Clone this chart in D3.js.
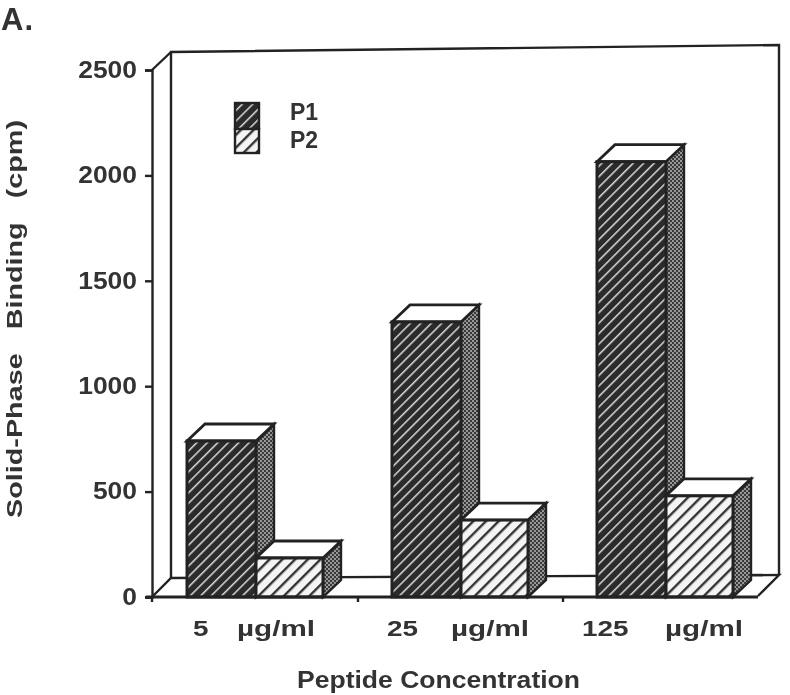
<!DOCTYPE html>
<html><head><meta charset="utf-8">
<script src="https://cdn.jsdelivr.net/npm/d3@7"></script>
<style>
html,body{margin:0;padding:0;background:#fff}
svg{display:block;filter:blur(0.55px)}
text{font-family:"Liberation Sans",Arial,sans-serif;font-weight:bold;fill:#333}
</style></head><body><div id="c"></div>
<script>
const doses = ["5","25","125"];
const unitLabel = "µg/ml";
const seriesNames = ["P1","P2"];
const p1Values = [740,1305,2065];
const p2Values = [185,365,480];
const yTicks = [0,500,1000,1500,2000,2500];
const yTitle = "Solid-Phase   Binding   (cpm)";
const xTitle = "Peptide Concentration";
const panelLabel = "A.";

const ink="#222";
const svg=d3.select("#c").append("svg").attr("width",790).attr("height",695);
const y=d3.scaleLinear().domain([0,2500]).range([597,70]);
const x0=d3.scalePoint().domain(doses).range([187,597]);
const barW={P1:69,P2:67};
const dx=18,dy=-17;

const defs=svg.append("defs");
function hatch(id,bg,fg,size,w){
  const p=defs.append("pattern").attr("id",id).attr("width",size).attr("height",size)
    .attr("patternUnits","userSpaceOnUse").attr("patternTransform","rotate(45)");
  p.append("rect").attr("width",size).attr("height",size).attr("fill",bg);
  p.append("rect").attr("width",w).attr("height",size).attr("fill",fg);
}
hatch("hP1","#2b2b2b","#d8d8d8",7.4,1.5);
hatch("hP2","#f4f4f4","#333",9,2.4);
const dots=defs.append("pattern").attr("id","dots").attr("width",4).attr("height",4)
  .attr("patternUnits","userSpaceOnUse");
dots.append("rect").attr("width",4).attr("height",4).attr("fill","#3a3a3a");
dots.append("circle").attr("cx",1).attr("cy",1).attr("r",.9).attr("fill","#c4c4c4");
dots.append("circle").attr("cx",3).attr("cy",3).attr("r",.9).attr("fill","#c4c4c4");

const line=d3.line();
const stroke=(s,w=2.4)=>s.attr("stroke",ink).attr("stroke-width",w).attr("fill","none");

const y0=y(0), yTop=y(2500);
const wall=svg.append("g");
wall.append("path").attr("d",line([[171,y0-19],[171,yTop-18],[779,yTop-25],[779,y0-22]])).call(stroke);
wall.append("path").attr("d",line([[152,y0],[171,y0-19],[779,y0-22],[758,y0-1]])).call(stroke);
svg.append("path").attr("d",line([[152,yTop],[171,yTop-18]])).call(stroke);

const axis=d3.axisLeft(y).tickValues(yTicks).tickSize(7).tickFormat(d3.format("d"));
const ax=svg.append("g").attr("transform","translate(152,0)").call(axis);
ax.selectAll("path,line").attr("stroke",ink).attr("stroke-width",2.4);
ax.selectAll("text").attr("font-size",23).attr("x",-15)
  .attr("textLength",d=>String(d).length*14.7).attr("lengthAdjust","spacingAndGlyphs");

function bar(g,xl,w,val,fill){
  const t=y(val),b=y(0);
  g.append("path").attr("d",line([[xl+w,t],[xl+w+dx,t+dy],[xl+w+dx,b+dy],[xl+w,b]])+"Z")
    .attr("fill","url(#dots)").attr("stroke",ink).attr("stroke-width",2.4);
  g.append("path").attr("d",line([[xl,t],[xl+dx,t+dy],[xl+w+dx,t+dy],[xl+w,t]])+"Z")
    .attr("fill","#fff").attr("stroke",ink).attr("stroke-width",2.8);
  g.append("rect").attr("x",xl).attr("y",t).attr("width",w).attr("height",b-t)
    .attr("fill",`url(#${fill})`).attr("stroke",ink).attr("stroke-width",3);
}
doses.forEach((d,i)=>{
  const g=svg.append("g");
  const xl=x0(d);
  bar(g,xl,barW.P1,p1Values[i],"hP1");
  bar(g,xl+barW.P1,barW.P2,p2Values[i],"hP2");
});

svg.append("path").attr("d",line([[146,y0],[758,y0]])).call(stroke,3);
doses.slice(1).forEach(d=>{
  const tx=x0(d)-34;
  svg.append("path").attr("d",line([[tx,y0],[tx,y0+5]])).call(stroke);
});
svg.append("path").attr("d",line([[152,y0],[152,y0+5]])).call(stroke);

const doseX=[193,387,582];
const unitX=[237,451,665];
doses.forEach((d,i)=>{
  svg.append("text").attr("x",doseX[i]).attr("y",636).attr("font-size",22)
    .attr("textLength",d.length*15.5).attr("lengthAdjust","spacingAndGlyphs").text(d);
  svg.append("text").attr("x",unitX[i]).attr("y",636).attr("font-size",22)
    .attr("textLength",78).attr("lengthAdjust","spacingAndGlyphs").text(unitLabel);
});
svg.append("text").attr("x",297).attr("y",688).attr("font-size",23)
  .attr("textLength",283).attr("lengthAdjust","spacingAndGlyphs").text(xTitle);
svg.append("text").attr("transform","translate(22,518) rotate(-90)")
  .attr("font-size",22).attr("textLength",398).attr("lengthAdjust","spacingAndGlyphs").style("white-space","pre").text(yTitle);
svg.append("text").attr("x",1).attr("y",30).attr("font-size",31).attr("letter-spacing",1).text(panelLabel);

seriesNames.forEach((n,i)=>{
  const ly=[103,129][i];
  svg.append("rect").attr("x",235).attr("y",ly).attr("width",24).attr("height",i?24:26)
    .attr("fill",`url(#hP${i+1})`).attr("stroke",ink).attr("stroke-width",2.4);
  svg.append("text").attr("x",290).attr("y",[120,148][i]).attr("font-size",23).text(n);
});
</script></body></html>
